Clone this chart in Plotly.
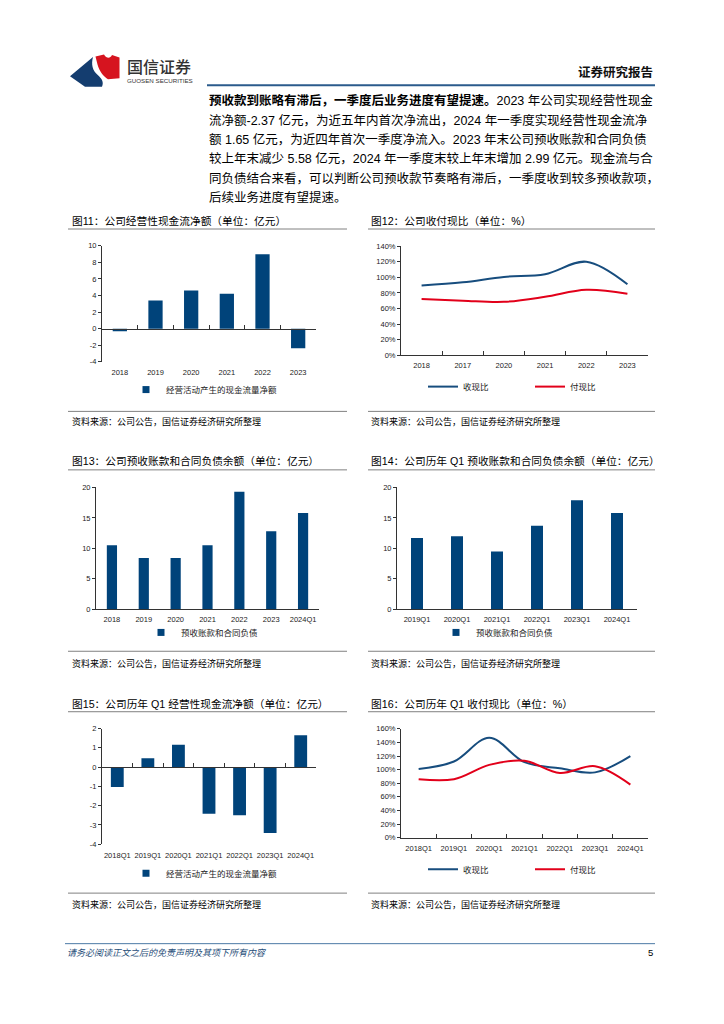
import plotly.graph_objects as go

W, H = 724, 1024


def px(x):
    return x / W


def py(y):
    return 1 - y / H


# ---------------- data ----------------
c11_cats = ['2018', '2019', '2020', '2021', '2022', '2023']
c11_vals = [-0.3, 3.4, 4.6, 4.23, 8.98, -2.37]
c11_name = '经营活动产生的现金流量净额'
c11_yticks = [-4, -2, 0, 2, 4, 6, 8, 10]
c11_ylabels = ['-4', '-2', '0', '2', '4', '6', '8', '10']

c12_cats = ['2018', '2017', '2020', '2021', '2022', '2023']
c12_receive = [89.5, 93.5, 100.5, 104.0, 120.0, 91.0]
c12_pay = [72.0, 70.0, 68.5, 75.0, 84.0, 79.0]

c13_cats = ['2018', '2019', '2020', '2021', '2022', '2023', '2024Q1']
c13_vals = [10.5, 8.4, 8.4, 10.5, 19.3, 12.8, 15.8]
c13_name = '预收账款和合同负债'

c14_cats = ['2019Q1', '2020Q1', '2021Q1', '2022Q1', '2023Q1', '2024Q1']
c14_vals = [11.7, 12.0, 9.5, 13.7, 17.9, 15.8]
c14_name = '预收账款和合同负债'

c15_cats = ['2018Q1', '2019Q1', '2020Q1', '2021Q1', '2022Q1', '2023Q1', '2024Q1']
c15_vals = [-1.03, 0.46, 1.16, -2.42, -2.5, -3.41, 1.65]
c15_name = '经营活动产生的现金流量净额'
c15_yticks = [-4, -3, -2, -1, 0, 1, 2]
c15_ylabels = ['-4', '-3', '-2', '-1', '0', '1', '2']

c16_cats = ['2018Q1', '2019Q1', '2020Q1', '2021Q1', '2022Q1', '2023Q1', '2024Q1']
c16_receive = [101, 112, 147, 111, 102, 96, 120]
c16_pay = [86, 86, 107, 113, 95, 105, 78]

receive_name = '收现比'
pay_name = '付现比'

titles = [
    '图11：公司经营性现金流净额（单位：亿元）',
    '图12：公司收付现比（单位：%）',
    '图13：公司预收账款和合同负债余额（单位：亿元）',
    '图14：公司历年 Q1 预收账款和合同负债余额（单位：亿元）',
    '图15：公司历年 Q1 经营性现金流净额（单位：亿元）',
    '图16：公司历年 Q1 收付现比（单位：%）',
]
source_text = '资料来源：公司公告，国信证券经济研究所整理'

para_lines = [
    '<b>预收款到账略有滞后，一季度后业务进度有望提速。</b>2023 年公司实现经营性现金',
    '流净额-2.37 亿元，为近五年内首次净流出，2024 年一季度实现经营性现金流净',
    '额 1.65 亿元，为近四年首次一季度净流入。2023 年末公司预收账款和合同负债',
    '较上年末减少 5.58 亿元，2024 年一季度末较上年末增加 2.99 亿元。现金流与合',
    '同负债结合来看，可以判断公司预收款节奏略有滞后，一季度收到较多预收款项，',
    '后续业务进度有望提速。',
]

# ---------------- styles ----------------
NAVY = '#00437a'
BLUE_LINE = '#174d7e'
RED_LINE = '#e2001a'
AXIS = '#333333'
FONT = 'Liberation Sans, Noto Sans CJK SC, sans-serif'
CJK = 'Noto Sans CJK SC, Liberation Sans, sans-serif'
TICK_FONT = dict(family=FONT, size=7.5, color='#222222')

fig = go.Figure()

# panel geometry (pixels)
panels = {
    1: dict(x0=102, x1=316, ytop=244, ybot=361, yr=[-4, 10], dtick=2, n=len(c11_cats), mode='zero',
            tv=c11_yticks, tt=c11_ylabels),
    2: dict(x0=401, x1=648, ytop=244.3, ybot=354.3, yr=[0, 140], dtick=20, n=len(c12_cats), mode='ticks', suffix='%'),
    3: dict(x0=96, x1=319, ytop=487.7, ybot=610.7, yr=[0, 20], dtick=5, n=len(c13_cats), mode='plain'),
    4: dict(x0=397, x1=637, ytop=487.7, ybot=610.7, yr=[0, 20], dtick=5, n=len(c14_cats), mode='plain'),
    5: dict(x0=102, x1=316, ytop=731, ybot=847.7, yr=[-4, 2], dtick=1, n=len(c15_cats), mode='zero',
            tv=c15_yticks, tt=c15_ylabels),
    6: dict(x0=401, x1=648, ytop=731.3, ybot=841, yr=[0, 160], dtick=20, n=len(c16_cats), mode='ticks', suffix='%'),
}


def ax_names(i):
    if i == 1:
        return 'xaxis', 'yaxis', 'x', 'y'
    return f'xaxis{i}', f'yaxis{i}', f'x{i}', f'y{i}'


layout_axes = {}
for i, p in panels.items():
    xa, ya, xr, yr = ax_names(i)
    yd = [py(p['ybot']), py(p['ytop'])]
    ymin, ymax = p['yr']
    yd_cfg = dict(
        domain=yd, range=p['yr'], dtick=p['dtick'], tick0=0, anchor=xr,
        showline=True, linecolor=AXIS, linewidth=1, ticks='outside', ticklen=3,
        tickcolor=AXIS, tickfont=TICK_FONT, showgrid=False, zeroline=False,
        ticksuffix=p.get('suffix', ''), fixedrange=True,
    )
    if 'tv' in p:
        yd_cfg.update(tickmode='array', tickvals=p['tv'], ticktext=p['tt'])
    layout_axes[ya] = yd_cfg
    xd = dict(
        domain=[px(p['x0']), px(p['x1'])], type='category', range=[-0.5, p['n'] - 0.5],
        showline=True, linecolor=AXIS, linewidth=1, tickfont=TICK_FONT, showgrid=False,
        zeroline=False, tickangle=0, fixedrange=True,
    )
    if p['mode'] == 'zero':
        frac = (0 - ymin) / (ymax - ymin)
        zero_pos = yd[0] + frac * (yd[1] - yd[0])
        zero_px = p['ybot'] - frac * (p['ybot'] - p['ytop'])
        xd.update(anchor='free', position=zero_pos, ticks='inside', tickson='boundaries',
                  ticklen=4, tickcolor=AXIS,
                  ticklabelstandoff=int(round(p['ybot'] - zero_px + 3)))
    elif p['mode'] == 'ticks':
        xd.update(anchor=yr, ticks='inside', tickson='boundaries', ticklen=4,
                  tickcolor=AXIS, ticklabelstandoff=3)
    else:
        xd.update(anchor=yr, ticks='', ticklabelstandoff=3)
    layout_axes[xa] = xd


def bar(i, cats, vals, name, width, legend):
    _, _, xr, yr = ax_names(i)
    fig.add_trace(go.Bar(x=cats, y=vals, width=width, marker=dict(color=NAVY, line=dict(width=0)),
                         name=name, showlegend=False, xaxis=xr, yaxis=yr, hoverinfo='x+y'))
    fig.add_trace(go.Scatter(x=[None], y=[None], mode='markers', name=name, legend=legend,
                             marker=dict(symbol='square', size=7, color=NAVY),
                             xaxis=xr, yaxis=yr, showlegend=True))


def line(i, cats, vals, name, color, legend):
    _, _, xr, yr = ax_names(i)
    fig.add_trace(go.Scatter(x=cats, y=vals, mode='lines', name=name, legend=legend,
                             line=dict(color=color, width=2, shape='spline', smoothing=1.0),
                             xaxis=xr, yaxis=yr))


bar(1, c11_cats, c11_vals, c11_name, 0.4, 'legend')
line(2, c12_cats, c12_receive, receive_name, BLUE_LINE, 'legend2')
line(2, c12_cats, c12_pay, pay_name, RED_LINE, 'legend3')
bar(3, c13_cats, c13_vals, c13_name, 0.32, 'legend4')
bar(4, c14_cats, c14_vals, c14_name, 0.3, 'legend5')
bar(5, c15_cats, c15_vals, c15_name, 0.42, 'legend6')
line(6, c16_cats, c16_receive, receive_name, BLUE_LINE, 'legend7')
line(6, c16_cats, c16_pay, pay_name, RED_LINE, 'legend8')

LEG_FONT = dict(family=CJK, size=8.5, color='#222222')


def leg(x, y):
    return dict(x=px(x), y=py(y), xanchor='left', yanchor='middle', orientation='h',
                font=LEG_FONT, bgcolor='rgba(0,0,0,0)', borderwidth=0,
                itemclick=False, itemdoubleclick=False)


legends = dict(
    legend=leg(126, 389),
    legend2=leg(423, 386),
    legend3=leg(530, 386),
    legend4=leg(141, 634),
    legend5=leg(436, 634),
    legend6=leg(126, 877),
    legend7=leg(423, 873),
    legend8=leg(530, 873),
)

# ---------------- page decorations ----------------
shapes = []


def hline(x0, x1, y, color, width):
    shapes.append(dict(type='line', xref='paper', yref='paper', x0=px(x0), x1=px(x1),
                       y0=py(y), y1=py(y), line=dict(color=color, width=width)))


hline(207, 655, 82, '#2b5b8c', 2)
hline(65, 655, 948, '#4b7aa5', 1)
for (yt, ys) in [(227, 411), (470, 653), (714, 897)]:
    hline(68, 347, yt, '#808080', 1)
    hline(368, 655, yt, '#808080', 1)
    hline(68, 347, ys, '#808080', 1)
    hline(368, 655, ys, '#808080', 1)


def path(cmds):
    out = []
    for c in cmds:
        if isinstance(c, str):
            out.append(c)
        else:
            out.append(f'{px(c[0]):.5f},{py(c[1]):.5f}')
    return ' '.join(out)


blue_logo = path(['M', (70, 73), 'L', (93, 53.5), 'C', (91, 61), (92.5, 67), (97.5, 71.5),
                  'C', (102, 75.5), (104, 79), (102, 83.5), 'L', (85, 83.5), 'Z'])
red_logo = path(['M', (95.5, 53), 'L', (104, 51), 'C', (106.5, 55), (110, 55.5), (112, 51.5),
                 'L', (119.5, 54), 'L', (119.5, 75), 'L', (108, 76),
                 'C', (103, 72.5), (99.5, 68), (97.5, 61), 'Z'])
shapes.append(dict(type='path', xref='paper', yref='paper', path=blue_logo,
                   fillcolor='#143d6f', line=dict(width=0)))
shapes.append(dict(type='path', xref='paper', yref='paper', path=red_logo,
                   fillcolor='#d6141f', line=dict(width=0)))

annotations = []


def text(x, y, s, size, color='#000000', family=CJK, anchor='left', weight='normal'):
    annotations.append(dict(xref='paper', yref='paper', x=px(x), y=py(y), text=s,
                            showarrow=False, xanchor=anchor, yanchor='middle',
                            font=dict(family=family, size=size, color=color, weight=weight)))


text(125, 63, '国信证券', 16, '#333333', weight=500)
text(125, 77, 'GUOSEN SECURITIES', 6.2, '#333333', family=FONT)
text(655, 68, '<b>证券研究报告</b>', 12.5, '#111111', anchor='right')

for k, s in enumerate(para_lines):
    text(207, 97.5 + k * 19.6, s, 12.5, '#000000', family=FONT)

title_pos = [(70, 219), (369, 219), (70, 461), (369, 461), (70, 706), (369, 706)]
for (x, y), t in zip(title_pos, titles):
    text(x, y, t, 10.7, '#000000', family=FONT)

for (x, y) in [(70, 421), (369, 421), (70, 665), (369, 665), (70, 908), (369, 908)]:
    text(x, y, source_text, 9, '#000000')

text(65, 957, '<i>请务必阅读正文之后的免责声明及其项下所有内容</i>', 9, '#1f4e79')
text(655, 957, '5', 9.5, '#000000', family=FONT, anchor='right')

fig.update_layout(
    width=W, height=H, autosize=False,
    margin=dict(l=0, r=0, t=0, b=0),
    paper_bgcolor='white', plot_bgcolor='white',
    font=dict(family=FONT, size=9, color='#000000'),
    shapes=shapes, annotations=annotations,
    bargap=0.5,
    **layout_axes, **legends,
)

fig.write_html('out.html',
               config={'displayModeBar': False},
               post_script="document.body.style.margin='0';document.body.style.overflow='hidden';")
